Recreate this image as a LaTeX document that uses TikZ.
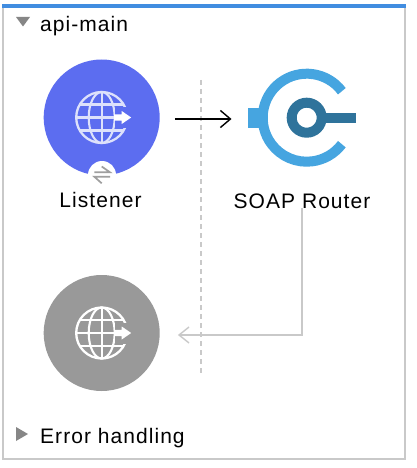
\documentclass[tikz,border=0pt]{standalone}
\usepackage{fontspec}
\setmainfont[LetterSpace=5]{Liberation Sans}
\usetikzlibrary{arrows.meta}
\definecolor{frameblue}{HTML}{418DE0}
\definecolor{framegray}{HTML}{C9C9C9}
\definecolor{listenerblue}{HTML}{5C6DF0}
\definecolor{globeline}{HTML}{DDE1FB}
\definecolor{idlegray}{HTML}{999999}
\definecolor{soaplight}{HTML}{46A5E0}
\definecolor{soapdark}{HTML}{2F739B}
\tikzset{
  x=1pt,y=-1pt,
  label text/.style={inner sep=0pt,anchor=base,font=\fontsize{21}{24}\selectfont,text=black},
  disc/.style={circle,minimum size=116pt,inner sep=0pt,draw=none},
  caret/.style={fill=gray!95,draw=none},
  pics/globeicon/.style 2 args={code={
    \draw[#1,line width=2.3pt] (0,0) circle[radius=25.5];
    \draw[#1,line width=2.1pt] (0,0) ellipse[x radius=13,y radius=25.5];
    \draw[#1,line width=2.1pt] (0,-25.5) -- (0,25.5);
    \draw[#1,line width=2.1pt] (-25.5,0) -- (13,0);
    \draw[#1,line width=2.1pt] (-22,-13) -- (22,-13);
    \draw[#1,line width=2.1pt] (-22,13) -- (22,13);
    \fill[#2] (13,-10.5) rectangle (30,10.5);
    \fill[white] (12.5,-3.2) -- (20,-3.2) -- (20,-6.5) -- (29.5,0) -- (20,6.5) -- (20,3.2) -- (12.5,3.2) -- cycle;
  }}
}
\begin{document}
\begin{tikzpicture}
\useasboundingbox (0,0) rectangle (416,468);
\fill[white] (0,0) rectangle (416,468);
% frame
\draw[framegray,line width=1.8pt] (3,6) -- (3,459) -- (405.3,459) -- (405.3,6);
\fill[frameblue] (2,4) rectangle (406,8);
% dashed separator
\coordinate (septop) at (201,80);
\coordinate (sepbot) at (201,373);
\draw[framegray,line width=1.6pt,dash pattern=on 5pt off 4pt] (septop) -- (sepbot);
% section headers
\fill[caret] (16,17) -- (30,17) -- (23,26.5) -- cycle;
\node[label text,anchor=base west] (main) at (40,32) {api-main};
\fill[caret] (16,427) -- (16,441) -- (28,434) -- cycle;
\node[label text,anchor=base west] (err) at (40,443) {Error handling};
% listener
\node[disc,fill=listenerblue] (listener) at (101.7,117.5) {};
\pic at (listener.center) {globeicon={globeline}{listenerblue}};
\node[circle,fill=white,minimum size=28pt,inner sep=0pt] (swap) at (102,175) {};
\draw[gray!75,line width=1.7pt] (94.3,172.3) -- (110,172.3) -- (101.7,166.5);
\draw[gray!75,line width=1.7pt] (110,176.7) -- (94.3,176.7) -- (101.7,183.3);
\node[label text] (listenerlabel) at (100.5,207) {Listener};
% soap router
\node[circle,minimum size=98pt,inner sep=0pt] (soap) at (306.7,117.7) {};
\fill[soaplight] (247.7,108) rectangle (268,127.7);
\draw[soaplight,line width=10pt] (306.7,117.7) ++(-37:44) arc[start angle=-37,end angle=-323,radius=44];
\draw[soapdark,line width=10pt] (306.7,117.7) circle[radius=15];
\fill[soapdark] (320,112.7) rectangle (356,122.7);
\node[label text] (soaplabel) at (302,208) {SOAP Router};
% idle source
\node[disc,fill=idlegray] (idle) at (101.7,333) {};
\pic at (idle.center) {globeicon={white}{idlegray}};
% connectors
\draw[-{Straight Barb[length=10pt,width=17pt]},line width=1.4pt,black,shorten <=15pt,shorten >=26pt] (listener.east |- 0,119) -- (soap.west |- 0,119);
\draw[-{Straight Barb[length=10pt,width=16pt]},framegray,line width=1.4pt,shorten >=18pt] (soaplabel.south) |- (idle.east |- 0,335);
\end{tikzpicture}
\end{document}
